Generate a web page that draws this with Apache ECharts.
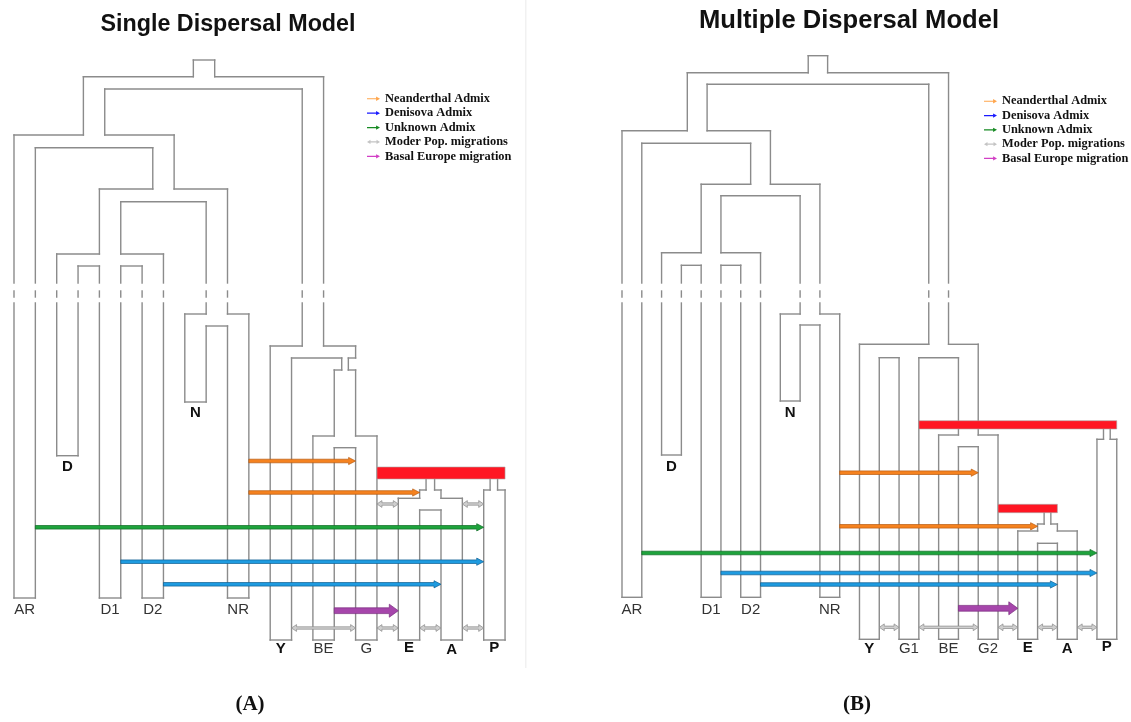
<!DOCTYPE html>
<html>
<head>
<meta charset="utf-8">
<title>Single vs Multiple Dispersal Model</title>
<script src="https://cdn.jsdelivr.net/npm/echarts@6/dist/echarts.min.js"></script>
<style>
  html, body { margin: 0; padding: 0; background: #fff; }
  #chart { width: 1131px; height: 722px; }
</style>
</head>
<body>
<div id="chart"></div>
<script>
// x = tube lane (one lane = one tube width), y = depth down the tree (0 at top)

// ---------- panel A : single dispersal ----------
// walls: [lane, top, bottom]
var wallsA = [
    [8.4, 60, 76.7], [9.4, 60, 76.7],
    [3.25, 76.7, 135], [4.25, 89, 135],
    [13.5, 89, 346], [14.5, 76.7, 346],
    [0, 135, 598], [1, 147.7, 598],
    [6.5, 147.7, 189], [7.5, 135, 189],
    [4, 189, 254], [5, 201.7, 254],
    [9, 201.7, 314], [10, 189, 314],
    [2, 254, 455.7], [3, 266, 455.7],
    [4, 266, 598], [5, 266, 598],
    [6, 266, 598], [7, 254, 598],
    [8, 314, 402], [9, 326, 402],
    [10, 326, 598], [11, 314, 598],
    [12, 346, 640], [13, 358, 640],
    [16, 346, 358],
    [15.35, 358, 370], [15.66, 358, 370],
    [15, 370, 436], [16, 370, 436],
    [14, 436, 640], [15, 447.7, 640],
    [16, 447.7, 640], [17, 436, 640],
    [19.3, 479, 490], [19.7, 479, 490],
    [19, 490, 498.3], [20, 490, 498.3],
    [18, 498.3, 640], [19, 510, 640],
    [20, 510, 640], [21, 498.3, 640],
    [22.3, 479, 490], [22.65, 479, 490],
    [22, 490, 640], [23, 490, 640]
];
// floors: [depth, lane from, lane to]
var floorsA = [
    [60, 8.4, 9.4],
    [76.7, 3.25, 8.4], [76.7, 9.4, 14.5],
    [89, 4.25, 13.5],
    [135, 0, 3.25], [135, 4.25, 7.5],
    [147.7, 1, 6.5],
    [189, 4, 6.5], [189, 7.5, 10],
    [201.7, 5, 9],
    [254, 2, 4], [254, 5, 7],
    [266, 3, 4], [266, 5, 6],
    [314, 8, 9], [314, 10, 11],
    [326, 9, 10],
    [402, 8, 9], [455.7, 2, 3],
    [598, 0, 1], [598, 4, 5], [598, 6, 7], [598, 10, 11],
    [346, 12, 13.5], [346, 14.5, 16],
    [358, 13, 15.35], [358, 15.66, 16],
    [370, 15, 15.35], [370, 15.66, 16],
    [436, 14, 15], [436, 16, 17],
    [447.7, 15, 16],
    [490, 19, 19.3], [490, 19.7, 20],
    [498.3, 18, 19], [498.3, 20, 21],
    [510, 19, 20],
    [490, 22, 22.3], [490, 22.65, 23],
    [640, 12, 13], [640, 14, 15], [640, 16, 17], [640, 18, 19], [640, 20, 21], [640, 22, 23]
];
// red bars: [lane from, lane to, top, bottom]
var redA = [[17, 23, 467, 479]];
// admixture / migration arrows: [depth, from lane, to lane, kind]
var admixA = [
    [461, 11, 16, 'nea'], [492.5, 11, 19, 'nea'],
    [527.3, 1, 22, 'unk'],
    [561.7, 5, 22, 'den'], [584.3, 7, 20, 'den'],
    [610.7, 15, 18, 'bas'],
    [504, 17, 18, 'mod'], [504, 21, 22, 'mod'],
    [628, 13, 16, 'mod'], [628, 17, 18, 'mod'], [628, 19, 20, 'mod'], [628, 21, 22, 'mod']
];
// tip names: [name, lane, depth, bold]
var tipsA = [
    ['AR', 0.5, 610, 0], ['D1', 4.5, 610, 0], ['D2', 6.5, 610, 0], ['NR', 10.5, 610, 0],
    ['D', 2.5, 467, 1], ['N', 8.5, 413, 1],
    ['Y', 12.5, 649, 1], ['BE', 14.5, 649, 0], ['G', 16.5, 649, 0],
    ['E', 18.5, 648, 1], ['A', 20.5, 650, 1], ['P', 22.5, 648, 1]
];

// ---------- panel B : multiple dispersal ----------
var wallsB = [
    [9.41, 55.7, 72.7], [10.39, 55.7, 72.7],
    [3.3, 72.7, 130.7], [4.3, 84.3, 130.7],
    [15.5, 84.3, 344.3], [16.5, 72.7, 344.3],
    [0, 130.7, 597.3], [1, 143.3, 597.3],
    [6.5, 143.3, 184.3], [7.5, 130.7, 184.3],
    [4, 184.3, 252.7], [5, 195.7, 252.7],
    [9, 195.7, 314], [10, 184.3, 314],
    [2, 252.7, 455], [3, 265.3, 455],
    [4, 265.3, 597.3], [5, 265.3, 597.3],
    [6, 265.3, 597.3], [7, 252.7, 597.3],
    [8, 314, 401], [9, 325, 401],
    [10, 325, 597.3], [11, 314, 597.3],
    [12, 344.3, 639.3], [13, 357.7, 639.3],
    [14, 357.7, 639.3], [15, 357.7, 639.3],
    [17, 357.7, 435], [18, 344.3, 435],
    [16, 435, 639.3], [17, 446.7, 639.3],
    [18, 446.7, 639.3], [19, 435, 639.3],
    [24.33, 429, 439.3], [24.67, 429, 439.3],
    [24, 439.3, 639.3], [25, 439.3, 639.3],
    [21.33, 512.7, 524], [21.67, 512.7, 524],
    [21, 524, 531], [22, 524, 531],
    [20, 531, 639.3], [21, 543.3, 639.3],
    [22, 543.3, 639.3], [23, 531, 639.3]
];
var floorsB = [
    [55.7, 9.41, 10.39],
    [72.7, 3.3, 9.41], [72.7, 10.39, 16.5],
    [84.3, 4.3, 15.5],
    [130.7, 0, 3.3], [130.7, 4.3, 7.5],
    [143.3, 1, 6.5],
    [184.3, 4, 6.5], [184.3, 7.5, 10],
    [195.7, 5, 9],
    [252.7, 2, 4], [252.7, 5, 7],
    [265.3, 3, 4], [265.3, 5, 6],
    [314, 8, 9], [314, 10, 11],
    [325, 9, 10],
    [401, 8, 9], [455, 2, 3],
    [597.3, 0, 1], [597.3, 4, 5], [597.3, 6, 7], [597.3, 10, 11],
    [344.3, 12, 15.5], [344.3, 16.5, 18],
    [357.7, 13, 14], [357.7, 15, 17],
    [435, 16, 17], [435, 18, 19],
    [446.7, 17, 18],
    [439.3, 24, 24.33], [439.3, 24.67, 25],
    [524, 21, 21.33], [524, 21.67, 22],
    [531, 20, 21], [531, 22, 23],
    [543.3, 21, 22],
    [639.3, 12, 13], [639.3, 14, 15], [639.3, 16, 17], [639.3, 18, 19],
    [639.3, 20, 21], [639.3, 22, 23], [639.3, 24, 25]
];
var redB = [[15, 25, 420.7, 429], [19, 22, 504.3, 512.7]];
var admixB = [
    [472.7, 11, 18, 'nea'], [526.3, 11, 21, 'nea'],
    [553, 1, 24, 'unk'],
    [573, 5, 24, 'den'], [584.5, 7, 22, 'den'],
    [608.3, 17, 20, 'bas'],
    [627.3, 13, 14, 'mod'], [627.3, 15, 18, 'mod'], [627.3, 19, 20, 'mod'],
    [627.3, 21, 22, 'mod'], [627.3, 23, 24, 'mod']
];
var tipsB = [
    ['AR', 0.5, 610, 0], ['D1', 4.5, 610, 0], ['D2', 6.5, 610, 0], ['NR', 10.5, 610, 0],
    ['D', 2.5, 467, 1], ['N', 8.5, 413, 1],
    ['Y', 12.5, 649, 1], ['G1', 14.5, 649, 0], ['BE', 16.5, 649, 0], ['G2', 18.5, 649, 0],
    ['E', 20.5, 648, 1], ['A', 22.5, 649, 1], ['P', 24.5, 647, 1]
];

var kinds = ['nea', 'den', 'unk', 'mod', 'bas'];
var kindNames = ['Neanderthal Admix', 'Denisova Admix', 'Unknown Admix', 'Moder Pop. migrations', 'Basal Europe migration'];

// time break drawn on long branches
var GAP = [283, 291, 297, 303];

var TUBE_COLOR = '#8b8b8b';
var ARROW = {
    nea: {fill: '#f5821f', stroke: '#b85a10', shaft: 1.8, head: 3.6, len: 7, both: false, legend: '#ffa64d'},
    den: {fill: '#1e9be0', stroke: '#0f5f92', shaft: 1.8, head: 3.6, len: 7, both: false, legend: '#1b1bff'},
    unk: {fill: '#1ea33c', stroke: '#0c6a22', shaft: 1.8, head: 3.6, len: 7, both: false, legend: '#168a22'},
    mod: {fill: '#cfcfcf', stroke: '#8a8a8a', shaft: 1.2, head: 3.4, len: 5, both: true, legend: '#c4c4c4'},
    bas: {fill: '#a646ab', stroke: '#7a2c80', shaft: 2.9, head: 6.5, len: 9, both: false, legend: '#d23fc5'}
};
var ICON_ONE = 'path://M0,4.6 L21,4.6 L21,1 L30,6 L21,11 L21,7.4 L0,7.4 Z';
var ICON_TWO = 'path://M0,6 L8,1 L8,4.6 L22,4.6 L22,1 L30,6 L22,11 L22,7.4 L8,7.4 L8,11 Z';

function tubeSeries(gi, walls, floors) {
    var data = [];
    walls.forEach(function (w) { data.push([w[0], w[1], w[0], w[2]]); });
    floors.forEach(function (f) { data.push([f[1], f[0], f[2], f[0]]); });
    return {
        type: 'custom', name: 'tubes' + gi, xAxisIndex: gi, yAxisIndex: gi,
        silent: true, z: 2, data: data,
        renderItem: function (params, api) {
            var x1 = api.value(0), y1 = api.value(1), x2 = api.value(2), y2 = api.value(3);
            var pieces = [[x1, y1, x2, y2]];
            if (x1 === x2 && y1 < GAP[0] && y2 > GAP[3]) {
                pieces = [[x1, y1, x1, GAP[0]], [x1, GAP[1], x1, GAP[2]], [x1, GAP[3], x1, y2]];
            }
            return {
                type: 'group',
                children: pieces.map(function (p) {
                    var a = api.coord([p[0], p[1]]), b = api.coord([p[2], p[3]]);
                    return {
                        type: 'line',
                        shape: {x1: a[0], y1: a[1], x2: b[0], y2: b[1]},
                        style: {stroke: TUBE_COLOR, lineWidth: 1.4, lineCap: 'square'}
                    };
                })
            };
        }
    };
}

function redSeries(gi, bars) {
    return {
        type: 'custom', name: 'red' + gi, xAxisIndex: gi, yAxisIndex: gi,
        silent: true, z: 3, data: bars,
        renderItem: function (params, api) {
            var a = api.coord([api.value(0), api.value(2)]);
            var b = api.coord([api.value(1), api.value(3)]);
            return {
                type: 'rect',
                shape: {x: a[0], y: a[1], width: b[0] - a[0], height: b[1] - a[1]},
                style: {fill: '#ff1623', stroke: '#a8a8a8', lineWidth: 0.6}
            };
        }
    };
}

function arrowPoints(x0, x1, y, st) {
    var d = x1 > x0 ? 1 : -1;
    var h1 = x1 - d * st.len;
    if (st.both) {
        var h0 = x0 + d * st.len;
        return [[x0, y], [h0, y - st.head], [h0, y - st.shaft], [h1, y - st.shaft], [h1, y - st.head],
            [x1, y], [h1, y + st.head], [h1, y + st.shaft], [h0, y + st.shaft], [h0, y + st.head]];
    }
    return [[x0, y - st.shaft], [h1, y - st.shaft], [h1, y - st.head], [x1, y],
        [h1, y + st.head], [h1, y + st.shaft], [x0, y + st.shaft]];
}

function arrowSeries(gi, rows, kind, idx) {
    var st = ARROW[kind];
    return {
        type: 'custom', name: kindNames[idx], xAxisIndex: gi, yAxisIndex: gi,
        silent: true, z: 4, itemStyle: {color: st.legend},
        data: rows.filter(function (r) { return r[3] === kind; }).map(function (r) { return [r[0], r[1], r[2]]; }),
        renderItem: function (params, api) {
            var a = api.coord([api.value(1), api.value(0)]);
            var b = api.coord([api.value(2), api.value(0)]);
            return {
                type: 'polygon',
                shape: {points: arrowPoints(a[0], b[0], a[1], st)},
                style: {fill: st.fill, stroke: st.stroke, lineWidth: 0.7}
            };
        }
    };
}

function tipSeries(gi, tips) {
    return {
        type: 'custom', name: 'tips' + gi, xAxisIndex: gi, yAxisIndex: gi,
        silent: true, z: 5,
        data: tips.map(function (t) { return [t[1], t[2], t[0], t[3]]; }),
        renderItem: function (params, api) {
            var p = api.coord([api.value(0), api.value(1)]);
            var bold = api.value(3) === 1;
            return {
                type: 'text', x: p[0], y: p[1],
                style: {
                    text: api.value(2), align: 'center', verticalAlign: 'middle',
                    fontFamily: '"Liberation Sans", Arial, sans-serif',
                    fontSize: 15, fontWeight: bold ? 'bold' : 'normal',
                    fill: bold ? '#111' : '#333'
                }
            };
        }
    };
}

var series = [
    tubeSeries(0, wallsA, floorsA), redSeries(0, redA), tipSeries(0, tipsA),
    tubeSeries(1, wallsB, floorsB), redSeries(1, redB), tipSeries(1, tipsB)
];
kinds.forEach(function (k, i) {
    series.push(arrowSeries(0, admixA, k, i));
    series.push(arrowSeries(1, admixB, k, i));
});

var legendData = kinds.map(function (k, i) {
    return {name: kindNames[i], icon: ARROW[k].both ? ICON_TWO : ICON_ONE, itemStyle: {color: ARROW[k].legend}};
});
var legendText = {fontFamily: '"Liberation Serif", "Times New Roman", serif', fontWeight: 'bold', fontSize: 12.4, color: '#111', lineHeight: 12.5};

var titleSans = '"Liberation Sans", Arial, sans-serif';
var panelLabel = {
    rich: {
        p: {fontFamily: '"Liberation Serif", "Times New Roman", serif', fontSize: 21, color: '#111'},
        b: {fontFamily: '"Liberation Serif", "Times New Roman", serif', fontSize: 21, fontWeight: 'bold', color: '#111'}
    }
};

var chart = echarts.init(document.getElementById('chart'), null, {renderer: 'canvas'});
chart.setOption({
    backgroundColor: '#ffffff',
    animation: false,
    title: [
        {text: 'Single Dispersal Model', left: 228, top: 13, textAlign: 'center', padding: 0,
            textStyle: {fontFamily: titleSans, fontWeight: 'bold', fontSize: 23.3, color: '#111'}},
        {text: 'Multiple Dispersal Model', left: 849, top: 8, textAlign: 'center', padding: 0,
            textStyle: {fontFamily: titleSans, fontWeight: 'bold', fontSize: 25.6, color: '#111'}},
        {text: '{p|(}{b|A}{p|)}', left: 250, top: 694, textAlign: 'center', padding: 0, textStyle: panelLabel},
        {text: '{p|(}{b|B}{p|)}', left: 857, top: 694, textAlign: 'center', padding: 0, textStyle: panelLabel}
    ],
    legend: [
        {left: 367, top: 92.5, orient: 'vertical', padding: 0, itemWidth: 13, itemHeight: 7, itemGap: 1.9,
            selectedMode: false, textStyle: legendText, data: legendData},
        {left: 984, top: 95, orient: 'vertical', padding: 0, itemWidth: 13, itemHeight: 7, itemGap: 1.8,
            selectedMode: false, textStyle: legendText, data: legendData}
    ],
    grid: [
        {left: 14, top: 0, width: 23 * 21.35, height: 722},
        {left: 622, top: 0, width: 25 * 19.79, height: 722}
    ],
    xAxis: [
        {type: 'value', gridIndex: 0, min: 0, max: 23, show: false},
        {type: 'value', gridIndex: 1, min: 0, max: 25, show: false}
    ],
    yAxis: [
        {type: 'value', gridIndex: 0, min: 0, max: 722, inverse: true, show: false},
        {type: 'value', gridIndex: 1, min: 0, max: 722, inverse: true, show: false}
    ],
    graphic: [
        {type: 'rect', silent: true, z: 0, shape: {x: 525, y: 0, width: 1.5, height: 668}, style: {fill: '#f1f1f1'}}
    ],
    series: series
});
</script>
</body>
</html>
